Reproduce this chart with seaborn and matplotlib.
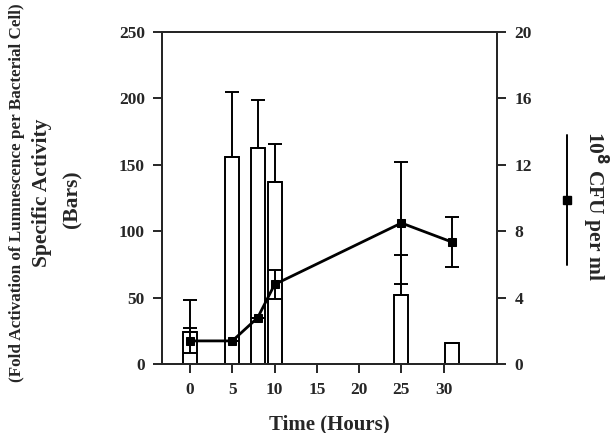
import numpy as np
import pandas as pd
import matplotlib
matplotlib.use("Agg")
import matplotlib.pyplot as plt
from matplotlib.lines import Line2D
import seaborn as sns

sns.set_style("ticks")
plt.rcParams["font.family"] = ["Liberation Serif", "DejaVu Serif"]
plt.rcParams["font.weight"] = "bold"

# data
hours = [0, 5, 8, 10, 25, 31]
activity = [24, 156, 163, 137, 52, 16]          # bars, left axis
activity_err = [24, 49, 36, 29, 30, 0]          # upper error only
cfu = [1.4, 1.4, 2.8, 4.8, 8.5, 7.35]           # 10^8 CFU per ml, right axis
cfu_err = [0.75, 0, 0, 0.9, 3.7, 1.5]

df = pd.DataFrame({"hours": hours, "activity": activity, "cfu": cfu})

fig = plt.figure(figsize=(6.12, 4.33), dpi=100)
ax = fig.add_axes([0.265, 0.159, 0.547, 0.767])

sns.barplot(data=df, x="hours", y="activity", native_scale=True, width=0.83,
            color="white", edgecolor="black", linewidth=1.4, ax=ax)
ax.errorbar(hours, activity, yerr=[np.zeros(len(activity)), activity_err],
            fmt="none", ecolor="black", elinewidth=1.4, capsize=5, capthick=1.4)

ax2 = ax.twinx()
sns.lineplot(data=df, x="hours", y="cfu", color="black", linewidth=2,
             marker="s", markersize=6, markeredgecolor="black", ax=ax2)
ax2.errorbar(hours, cfu, yerr=cfu_err, fmt="none", ecolor="black",
             elinewidth=1.4, capsize=5, capthick=1.4)

ax.set_xlim(-3.3, 36.3)
ax.set_ylim(0, 250)
ax2.set_ylim(0, 20)
ax.set_xticks([0, 5, 10, 15, 20, 25, 30])
ax.set_yticks(np.arange(0, 251, 50))
ax2.set_yticks(np.arange(0, 21, 4))

for a in (ax, ax2):
    for s in a.spines.values():
        s.set_linewidth(1.4)
        s.set_visible(True)
    a.tick_params(width=1.4, length=6.5, labelsize=12.5, direction="out", pad=6)
for lab in ax.get_xticklabels() + ax.get_yticklabels() + ax2.get_yticklabels():
    lab.set_fontweight("bold")

ax.set_xlabel("Time (Hours)", fontsize=15, fontweight="bold", labelpad=12)
ax.set_ylabel("")
ax2.set_ylabel("")

fig.text(0.027, 0.555, "(Fold Activation of Lumnescence per Bacterial Cell)",
         rotation=90, ha="center", va="center", fontsize=12.3, fontweight="bold")
fig.text(0.069, 0.555, "Specific Activity", rotation=90, ha="center",
         va="center", fontsize=15.5, fontweight="bold")
fig.text(0.118, 0.54, "(Bars)", rotation=90, ha="center", va="center",
         fontsize=15.5, fontweight="bold")
fig.text(0.972, 0.525, r"10$^{\mathbf{8}}$ CFU per ml", rotation=270,
         ha="center", va="center", fontsize=15.5, fontweight="bold")

# legend glyph beside the right-axis label
fig.add_artist(Line2D([0.926, 0.926], [0.388, 0.688], color="black",
                      linewidth=1.4, transform=fig.transFigure))
fig.add_artist(Line2D([0.926], [0.538], marker="s", markersize=6,
                      color="black", transform=fig.transFigure))

fig.savefig("out.png", dpi=100)
